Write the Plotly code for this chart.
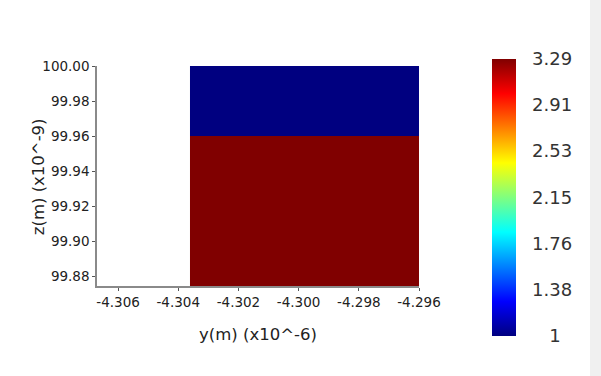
import plotly.graph_objects as go

# cell edges (y in x1e-6 m, z in x1e-9 m)
y_edges = [-4.30361, -4.296]
z_edges = [99.8747, 99.96, 100.00]
values = [[3.29], [1.0]]  # bottom cell, top cell

x_range = [-4.3067, -4.296]
z_range = [99.8747, 100.00]
x_ticks = [-4.306, -4.304, -4.302, -4.300, -4.298, -4.296]
x_ticktext = ["-4.306", "-4.304", "-4.302", "-4.300", "-4.298", "-4.296"]
z_ticks = [99.88, 99.90, 99.92, 99.94, 99.96, 99.98, 100.00]
z_ticktext = ["99.88", "99.90", "99.92", "99.94", "99.96", "99.98", "100.00"]
cb_ticks = [1.0, 1.3817, 1.7633, 2.145, 2.5267, 2.9083, 3.29]
cb_ticktext = ["\u2007\u20081", "1.38", "1.76", "2.15", "2.53", "2.91", "3.29"]

jet = [
    [0.0, "rgb(0,0,128)"],
    [0.125, "rgb(0,0,255)"],
    [0.375, "rgb(0,255,255)"],
    [0.625, "rgb(255,255,0)"],
    [0.875, "rgb(255,0,0)"],
    [1.0, "rgb(128,0,0)"],
]

FONT = "DejaVu Sans"

fig = go.Figure()
fig.add_trace(go.Heatmap(
    x=y_edges, y=z_edges, z=values,
    colorscale=jet, zmin=1.0, zmax=3.29,
    colorbar=dict(
        thickness=24, lenmode="pixels", len=277,
        x=1.2254, xanchor="left", xpad=0,
        y=0.403, yanchor="middle", ypad=0,
        tickvals=cb_ticks, ticktext=cb_ticktext,
        ticks="outside", ticklen=13, tickcolor="rgba(0,0,0,0)",
        outlinewidth=0,
        tickfont=dict(family=FONT, size=18, color="#333333"),
    ),
    hoverinfo="skip",
))

axis_common = dict(
    showgrid=False, zeroline=False, showline=True,
    linecolor="#8a8a8a", linewidth=1.5,
    ticks="outside", ticklen=3, tickcolor="#555555", tickwidth=1,
    tickfont=dict(family=FONT, size=13.5, color="#222222"),
)

fig.update_layout(
    width=601, height=376,
    margin=dict(l=97, r=182, t=66, b=90, autoexpand=False),
    paper_bgcolor="white", plot_bgcolor="white",
    xaxis=dict(range=x_range, tickvals=x_ticks, ticktext=x_ticktext,
               title=dict(text="y(m) (x10^-6)", standoff=19,
                          font=dict(family=FONT, size=16.5, color="#222222")),
               **axis_common),
    yaxis=dict(range=z_range, tickvals=z_ticks, ticktext=z_ticktext,
               **axis_common),
    annotations=[dict(text="z(m) (x10^-9)", xref="paper", yref="paper",
                      x=-0.1829, y=0.495, xanchor="center", yanchor="middle",
                      textangle=-90, showarrow=False,
                      font=dict(family=FONT, size=16.5, color="#222222"))],
    shapes=[dict(type="rect", xref="paper", yref="paper",
                 x0=1.531, x1=1.6, y0=-0.5, y1=1.4,
                 fillcolor="#f0f0f0", line=dict(width=0), layer="below")],
)

fig.write_html("out.html")
